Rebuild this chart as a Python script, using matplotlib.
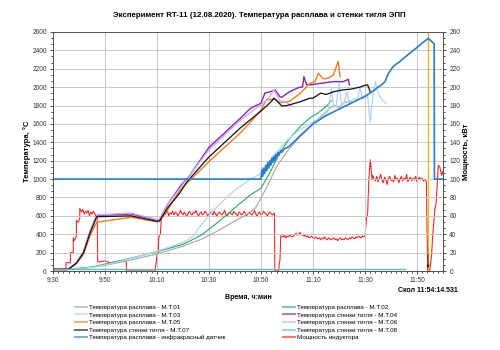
import matplotlib
matplotlib.use("Agg")
import matplotlib.pyplot as plt
from matplotlib.ticker import MultipleLocator
import numpy as np

plt.rcParams['font.family'] = ['Liberation Sans', 'DejaVu Sans']

# ---------------- data (clock times "H:MM" with decimal minutes) ----------------
x_tick_labels = ["9:30", "9:50", "10:10", "10:30", "10:50", "11:10", "11:30", "11:50"]

mt01_t = ["9:30", "9:40", "9:50", "10:00", "10:10", "10:20", "10:27", "10:33", "10:40", "10:45", "10:48", "10:52",
          "10:56", "11:00", "11:05", "11:09", "11:13", "11:16", "11:18", "11:20", "11:22", "11:25"]
mt01_v = [20, 22, 60, 120, 185, 270, 345, 430, 545, 620, 690, 900, 1135, 1300, 1460, 1570, 1680, 1760, 1800, 1780,
          1830, 1850]

mt02_t = ["9:30", "9:38", "9:45", "9:50", "10:00", "10:10", "10:20", "10:27", "10:33", "10:39", "10:46", "10:50",
          "10:54", "10:57", "11:01", "11:05", "11:09", "11:12", "11:15", "11:17"]
mt02_v = [20, 25, 45, 75, 140, 210, 290, 390, 520, 665, 830, 900, 1100, 1280, 1440, 1570, 1670, 1720, 1790, 1850]

mt03_t = ["9:30", "9:40", "9:45", "9:50", "10:00", "10:10", "10:20", "10:24", "10:27", "10:33", "10:40", "10:46",
          "10:50", "10:55", "11:00", "11:05", "11:10", "11:15", "11:16", "11:17", "11:18", "11:19", "11:20",
          "11:21", "11:22", "11:23", "11:24", "11:25", "11:26", "11:27", "11:28", "11:29", "11:30", "11:31",
          "11:32", "11:33", "11:34", "11:35", "11:36", "11:37", "11:38"]
mt03_v = [20, 25, 40, 65, 135, 215, 310, 380, 500, 700, 880, 1000, 1060, 1260, 1420, 1540, 1620, 1700, 1760, 1990,
          1780, 1810, 2050, 1800, 1830, 1950, 1820, 1860, 1880, 1850, 2000, 1870, 1880, 1900, 1620, 1900, 2060, 1940,
          1880, 1850, 1820]

mt04_t = ["9:30", "9:36", "9:39", "9:41.7", "9:44.2", "9:46.8", "10:00", "10:10", "10:11", "10:14", "10:18.8",
          "10:22.7", "10:30", "10:42", "10:46", "10:50", "10:51.5", "10:53", "10:55.4", "10:57.3", "10:58", "11:01",
          "11:04", "11:06", "11:06.5", "11:07.5", "11:09", "11:14", "11:17.7", "11:21.7", "11:23.6", "11:24"]
mt04_v = [20, 20, 90, 205, 425, 605, 620, 555, 560, 720, 917, 1045, 1345, 1660, 1770, 1825, 1935, 1945, 1970, 1895,
          1890, 1950, 1990, 2005, 2115, 2030, 2025, 2045, 2060, 2060, 2085, 2025]

mt05_t = ["9:30", "9:36", "9:39", "9:41.7", "9:44.2", "9:46.8", "10:00", "10:10", "10:11", "10:14", "10:18.8",
          "10:30", "10:42", "10:46", "10:50", "10:52", "10:55.4", "10:57.3", "11:01", "11:05", "11:08.8", "11:10.8",
          "11:12", "11:14", "11:16", "11:17.8", "11:19.7", "11:20.4"]
mt05_v = [20, 20, 80, 180, 380, 530, 585, 535, 545, 660, 880, 1190, 1500, 1620, 1750, 1860, 1870, 1830, 1845, 1930,
          2040, 2060, 2150, 2090, 2100, 2130, 2280, 2115]

mt06_t = ["9:30", "9:36", "9:39", "9:41.7", "9:44.2", "9:46.8", "10:00", "10:10", "10:11", "10:14", "10:18.8",
          "10:30", "10:42", "10:50", "10:53", "10:55", "10:57", "11:00", "11:02"]
mt06_v = [20, 20, 90, 200, 420, 610, 630, 560, 565, 720, 900, 1320, 1640, 1810, 1880, 1975, 1860, 1830, 1790]

mt07_t = ["9:30", "9:36", "9:39", "9:41.7", "9:44.2", "9:46.8", "10:00", "10:10", "10:11", "10:14", "10:18.8",
          "10:21.5", "10:30", "10:42", "10:50", "10:54", "10:55", "10:58", "11:00", "11:05", "11:08.8", "11:10",
          "11:13", "11:15", "11:18", "11:21.5", "11:25", "11:28", "11:30", "11:31", "11:32"]
mt07_v = [20, 20, 85, 195, 410, 590, 600, 540, 545, 685, 850, 970, 1240, 1555, 1740, 1845, 1880, 1795, 1800, 1840,
          1880, 1880, 1935, 1920, 1950, 1970, 1980, 2000, 2020, 2025, 1950]

mt08_t = ["9:30", "11:45.4"]
mt08_v = [25, 25]

ir_t = ["9:30", "10:50", "10:50.3", "10:50.6", "10:51", "10:51.4", "10:51.8", "10:52.2", "10:52.6", "10:53",
        "10:53.4", "10:53.8", "10:54.2", "10:54.6", "10:55", "10:55.4", "10:55.8", "10:56.2", "10:56.6", "10:57",
        "10:57.5", "10:58", "10:59", "11:00", "11:01", "11:05", "11:10", "11:15", "11:20", "11:25", "11:30",
        "11:33", "11:35", "11:36.4", "11:37.7", "11:39", "11:41", "11:43.5", "11:46", "11:48.6", "11:50", "11:52",
        "11:54.4", "11:56.6", "11:56.7", "12:00"]
ir_v = [1000, 1000, 1100, 1030, 1120, 1060, 1150, 1090, 1180, 1120, 1200, 1150, 1230, 1180, 1250, 1200, 1270, 1230,
        1290, 1260, 1310, 1290, 1330, 1340, 1360, 1470, 1600, 1690, 1760, 1830, 1900, 1955, 2000, 2024, 2060, 2150,
        2230, 2280, 2340, 2400, 2430, 2480, 2530, 2470, 1000, 1000]

# inductor power, kW: stepwise parts
power_t = ["9:30", "9:35", "9:35", "9:36.7", "9:36.7", "9:37.8", "9:37.8", "9:38.2", "9:39", "9:39", "9:39.7",
           "9:40.3", "9:40.3", "9:41", "9:41.5", "9:42", "9:42.5", "9:43", "9:43.5", "9:44", "9:44.5", "9:45",
           "9:45.5", "9:46", "9:46.5", "9:47", "9:47.2", "9:48", "9:50", "9:52", "9:54", "9:56", "9:58.2", "9:58.2",
           "10:09.2", "10:09.7", "10:10", "10:10.5", "10:10.7", "10:11.3", "10:11.7"]
power_v = [0, 0, 9, 9, 20, 20, 36, 33, 38, 55, 53, 57, 68, 64, 67, 62, 65, 63, 66, 60, 64, 62, 65, 63, 60, 58, 10,
           10, 11, 9, 10, 11, 10, 0, 0, 10, 18, 20, 37, 40, 58]
# noisy plateaus: start time, step (min), values
plateau1_start, plateau1_step = "10:12", 0.5
plateau1_v = [62, 64, 61, 63, 66, 60, 63, 62, 65, 61, 64, 63, 60, 62, 66, 63, 61, 64, 62, 59, 63, 65, 62, 61, 64,
              63, 66, 62, 60, 63, 64, 61, 62, 65, 63, 60, 62, 64, 63, 61, 65, 62, 60, 63, 64, 62, 61, 63, 66, 62,
              59, 63, 64, 62, 61, 65, 63, 62, 60, 64, 63, 61, 62, 65, 63, 60, 62, 64, 62, 61, 63, 66, 62, 60, 63,
              64, 61, 62, 65, 63, 62, 60, 63, 64, 62, 61, 63]
gap1_t = ["10:55.2", "10:55.3", "10:56.8", "10:57", "10:57.3", "10:57.6"]
gap1_v = [62, 0, 0, 8, 12, 38]
plateau2_start, plateau2_step = "10:58", 0.5
plateau2_v = [38, 37, 39, 36, 38, 37, 39, 38, 37, 38, 40, 41, 39, 40, 42, 39, 40, 38, 39, 37, 38, 36, 37, 38, 36,
              35, 37, 36, 35, 36, 34, 36, 35, 37, 35, 34, 36, 35, 34, 35, 36, 34, 35, 33, 35, 36, 34, 35, 34, 36,
              35, 34, 36, 35, 37, 36, 35, 37, 36, 38, 37, 36, 38, 37, 38]
gap2_t = ["11:30.6", "11:31", "11:31.5", "11:32", "11:32.4", "11:32.7"]
gap2_v = [58, 62, 100, 121, 110, 100]
plateau3_start, plateau3_step = "11:33", 0.5
plateau3_v = [104, 100, 98, 103, 97, 101, 105, 99, 96, 102, 100, 94, 101, 103, 98, 100, 97, 104, 99, 101, 96, 100,
              103, 98, 101, 99, 105, 97, 100, 102, 98, 101, 99, 103, 97, 100, 102, 99, 101, 98, 100, 97]
end_t = ["11:53.6", "11:54.1", "11:54.9", "11:55.6", "11:56", "11:56.9", "11:57.3", "11:58.2", "11:58.8",
         "11:59.5", "11:59.9"]
end_v = [97, 0, 0, 17, 37, 68, 72, 115, 113, 104, 108]

cleave_time = "11:54.25"
cleave_label = "Скол 11:54:14.531"

labels = {
    "01": "Температура расплава - М.Т.01",
    "02": "Температура расплава - М.Т.02",
    "03": "Температура расплава - М.Т.03",
    "04": "Температура стенки тигля - М.Т.04",
    "05": "Температура расплава - М.Т.05",
    "06": "Температура стенки тигля - М.Т.06",
    "07": "Температура стенки тигля - М.Т.07",
    "08": "Температура стенки тигля - М.Т.08",
    "ir": "Температура расплава - инфракрасный датчик",
    "pw": "Мощность индуктора",
}


def tm(s):
    h, m = s.split(":")
    return (int(h) - 9) * 60 + float(m) - 30.0


def tms(lst):
    return np.array([tm(s) for s in lst])


def plateau(start, step, vals):
    return tm(start) + step * np.arange(len(vals)), np.array(vals, dtype=float)


p1t, p1v = plateau(plateau1_start, plateau1_step, plateau1_v)
p2t, p2v = plateau(plateau2_start, plateau2_step, plateau2_v)
p3t, p3v = plateau(plateau3_start, plateau3_step, plateau3_v)
pw_t = np.concatenate([tms(power_t), p1t, tms(gap1_t), p2t, tms(gap2_t), p3t, tms(end_t)])
pw_v = np.concatenate([power_v, p1v, gap1_v, p2v, gap2_v, p3v, end_v])

# ---------------- figure ----------------
fig = plt.figure(figsize=(5, 3.5), dpi=100)
ax = fig.add_axes([0.106, 0.2257, 0.78, 0.683])
ax2 = ax.twinx()
ax.set_zorder(ax2.get_zorder() + 1)
ax.patch.set_visible(False)

fs = 4.7
ax.set_xlim(0, 150)
ax.set_ylim(0, 2600)
ax2.set_ylim(0, 260)
ax.xaxis.set_minor_locator(MultipleLocator(2))
ax.set_xticks(np.arange(0, 141, 20))
ax.set_xticklabels(x_tick_labels)
ax.yaxis.set_major_locator(MultipleLocator(200))
ax.yaxis.set_minor_locator(MultipleLocator(200 / 3))
ax2.yaxis.set_major_locator(MultipleLocator(20))
ax2.yaxis.set_minor_locator(MultipleLocator(20 / 3))
ax.grid(True, which='major', color='#c8c8c8', lw=0.7)
ax.tick_params(labelsize=fs, length=2.5, width=0.6, pad=2, colors='#333333')
ax.tick_params(which='minor', length=1.5, width=0.5)
ax2.tick_params(labelsize=fs, length=2.5, width=0.6, pad=2, colors='#333333')
ax2.tick_params(which='minor', length=1.5, width=0.5)
for a in (ax, ax2):
    for sp in a.spines.values():
        sp.set_color('#555555')
        sp.set_linewidth(0.7)

# power (right axis)
l_pw, = ax2.plot(pw_t, pw_v, color='#ff1a1a', lw=0.75, label=labels["pw"])

series = [
    ("01", mt01_t, mt01_v, '#a6a6a6', 0.8),
    ("02", mt02_t, mt02_v, '#1fae5e', 0.8),
    ("03", mt03_t, mt03_v, '#aed4f5', 0.9),
    ("04", mt04_t, mt04_v, '#8424a8', 1.0),
    ("05", mt05_t, mt05_v, '#f07c22', 1.0),
    ("06", mt06_t, mt06_v, '#cfa6f2', 1.0),
    ("07", mt07_t, mt07_v, '#111111', 0.9),
    ("08", mt08_t, mt08_v, '#5fbfb3', 1.0),
    ("ir", ir_t, ir_v, '#2a7dcc', 1.2),
]
handles = {}
for key, tt, vv, col, lw in series:
    h, = ax.plot(tms(tt), vv, color=col, lw=lw, label=labels[key])
    handles[key] = h
handles["pw"] = l_pw

# cleave marker
xc = tm(cleave_time)
ax.axvline(xc, color='#f7b500', lw=0.9, zorder=1)
ax.annotate("", xy=(xc, 0), xytext=(xc, 220),
            arrowprops=dict(arrowstyle='-|>', color='#222222', lw=0.6, mutation_scale=4))
ax.text(xc, -170, cleave_label, ha='center', va='top', fontsize=5, fontweight='bold')

ax.set_xlabel("Время, ч:мин", fontsize=5, fontweight='bold', labelpad=7)
ax.set_ylabel("Температура, °С", fontsize=5.5, fontweight='bold', labelpad=1)
ax2.set_ylabel("Мощность, кВт", fontsize=5.5, fontweight='bold', labelpad=2)
fig.text(0.518, 0.957, "Эксперимент RT-11 (12.08.2020). Температура расплава и стенки тигля ЭПП",
         ha='center', va='center', fontsize=5.7, fontweight='bold')

order = ["01", "03", "05", "07", "ir", "02", "04", "06", "08", "pw"]
leg = fig.legend([handles[k] for k in order], [labels[k] for k in order], ncol=2,
                 loc='upper left', bbox_to_anchor=(0.138, 0.146), frameon=False, fontsize=4.5,
                 handlelength=2.0, handletextpad=0.3, labelspacing=0.36, columnspacing=9.2)
for lh in leg.get_lines():
    lh.set_linewidth(1.5)
    lh.set_alpha(0.6)

fig.savefig("out.png", dpi=100)
